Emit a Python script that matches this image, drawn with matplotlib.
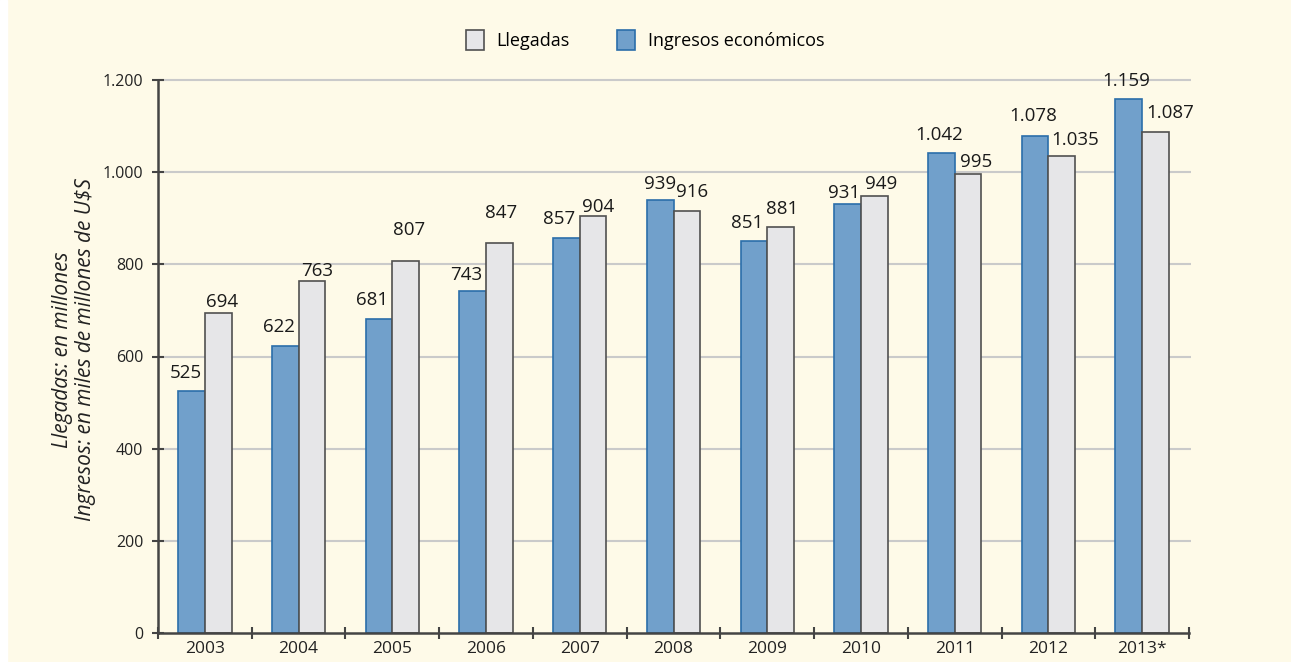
import matplotlib
matplotlib.use("Agg")
import matplotlib.pyplot as plt
from matplotlib.patches import Rectangle
import numpy as np

# ---------------- data ----------------
years = ["2003", "2004", "2005", "2006", "2007", "2008", "2009", "2010", "2011", "2012", "2013*"]
ingresos = [525, 622, 681, 743, 857, 939, 851, 931, 1042, 1078, 1159]   # blue
llegadas = [694, 763, 807, 847, 904, 916, 881, 949, 995, 1035, 1087]    # gray
yticks = [0, 200, 400, 600, 800, 1000, 1200]
legend_labels = ["Llegadas", "Ingresos económicos"]
ylabel_lines = ["Llegadas: en millones", "Ingresos: en miles de millones de U$S"]

# ---------------- style ----------------
BG = "#FEFAE8"
BLUE = "#71A0CB"
BLUE_EDGE = "#2B6EAA"
GRAY = "#E6E6E8"
GRAY_EDGE = "#505050"
SPINE = "#444444"
GRID = "#CACACA"
FONT = "Open Sans"

# label offsets (pixels) relative to bar-top centre
blue_off = [(-6, 18), (-6, 19), (-7, 19), (-7, 16), (-7, 19), (0, 16), (-7, 18), (-4, 11), (-2, 18), (-2, 20), (-3, 18)]
gray_off = [(4, 11), (5, 10), (3, 31), (2, 30), (5, 9), (5, 19), (2, 18), (7, 12), (8, 12), (13, 16), (15, 19)]

plt.rcParams["font.family"] = [FONT, "DejaVu Sans"]

W, H = 1291, 662
fig = plt.figure(figsize=(W / 100, H / 100), dpi=100)
fig.patch.set_facecolor(BG)
fig.patches.append(Rectangle((0, 0), 7 / W, 1, transform=fig.transFigure, color="white", zorder=0))

ax = fig.add_axes([158 / W, 1 - 633 / H, (1189 - 158) / W, (633 - 80) / H])
ax.set_facecolor(BG)

n = len(years)
x = np.arange(n) + 0.5
bw = 0.285

b1 = ax.bar(x - bw / 2, ingresos, bw, color=BLUE, edgecolor=BLUE_EDGE, linewidth=1.2, zorder=3)
b2 = ax.bar(x + bw / 2, llegadas, bw, color=GRAY, edgecolor=GRAY_EDGE, linewidth=1.2, zorder=3)

def fmt(v):
    return f"{v:,}".replace(",", ".")

for xi, v, (dx, dy) in zip(x - bw / 2, ingresos, blue_off):
    ax.annotate(fmt(v), (xi, v), xytext=(dx, dy), textcoords="offset pixels",
                ha="center", va="center", fontsize=13.5, color="#1a1a1a", zorder=5)
for xi, v, (dx, dy) in zip(x + bw / 2, llegadas, gray_off):
    ax.annotate(fmt(v), (xi, v), xytext=(dx, dy), textcoords="offset pixels",
                ha="center", va="center", fontsize=13.5, color="#1a1a1a", zorder=5,
                annotation_clip=False)

ax.set_xlim(0, n)
ax.set_ylim(0, 1200)

# grid
for t in yticks[1:]:
    ax.plot([0, n + 0.02], [t, t], color=GRID, lw=1.5, zorder=1, clip_on=False, solid_capstyle="butt")

for s in ["top", "right"]:
    ax.spines[s].set_visible(False)
for s in ["left", "bottom"]:
    ax.spines[s].set_color(SPINE)
    ax.spines[s].set_linewidth(1.8)
    ax.spines[s].set_zorder(4)

ax.set_yticks(yticks)
ax.set_yticklabels([fmt(t) for t in yticks], fontsize=11.5, color="#222222")
ax.tick_params(axis="y", direction="inout", length=9, width=1.5, color=SPINE, pad=6)

ax.set_xticks(np.arange(n + 1))
ax.set_xticklabels([])
ax.tick_params(axis="x", which="major", direction="inout", length=9, width=1.5, color=SPINE)
ax.set_xticks(x, minor=True)
ax.set_xticklabels(years, minor=True, fontsize=12.5, color="#222222")
ax.tick_params(axis="x", which="minor", length=0, pad=6)

# y label
fig.text(74 / W, 1 - 350 / H, "\n".join(ylabel_lines), rotation=90, ha="center", va="center",
         fontsize=15, style="italic", color="#222222", linespacing=1.1, multialignment="center")

# legend
leg = fig.legend([b2, b1], legend_labels, loc="center", bbox_to_anchor=(645 / W, 1 - 40 / H),
                 ncol=2, frameon=False, fontsize=13, handlelength=1.0, handleheight=1.4,
                 columnspacing=2.6, handletextpad=0.7)

fig.savefig("out.png", dpi=100, facecolor=BG)
